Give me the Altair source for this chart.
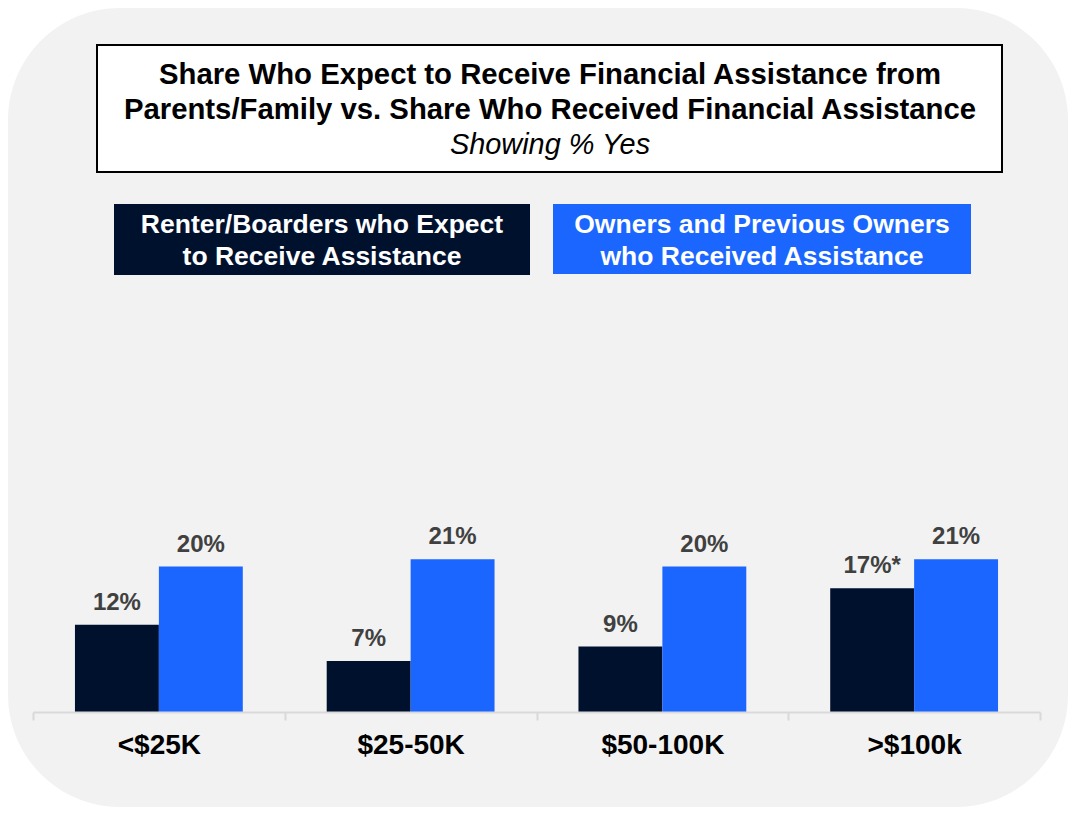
import altair as alt
import pandas as pd

categories = ["<$25K", "$25-50K", "$50-100K", ">$100k"]
series = ["Renter/Boarders who Expect to Receive Assistance",
          "Owners and Previous Owners who Received Assistance"]
renters = [12, 7, 9, 17]
owners = [20, 21, 20, 21]
renter_labels = ["12%", "7%", "9%", "17%*"]
owner_labels = ["20%", "21%", "20%", "21%"]

title_lines = ["Share Who Expect to Receive Financial Assistance from",
               "Parents/Family vs. Share Who Received Financial Assistance",
               "Showing % Yes"]
legend_dark = ["Renter/Boarders who Expect", "to Receive Assistance"]
legend_blue = ["Owners and Previous Owners", "who Received Assistance"]

DARK = "#00112e"
BLUE = "#1a66ff"
BG = "#f2f2f2"
FONT = "Liberation Sans"

rows = []
for c, v, l in zip(categories, renters, renter_labels):
    rows.append({"cat": c, "series": series[0], "value": v, "label": l})
for c, v, l in zip(categories, owners, owner_labels):
    rows.append({"cat": c, "series": series[1], "value": v, "label": l})
df = pd.DataFrame(rows)

one = pd.DataFrame({"k": [0]})

x_enc = alt.X("cat:N", sort=categories, title=None,
              scale=alt.Scale(paddingInner=0, paddingOuter=0),
              axis=alt.Axis(labelAngle=0, labelFont=FONT, labelFontSize=28,
                            labelFontWeight="bold", labelColor="#000000",
                            labelPadding=11, domainColor="#d9d9d9", domainWidth=2,
                            tickColor="#d9d9d9", tickWidth=2, tickSize=8,
                            tickBand="extent", grid=False, zindex=1))
xo_enc = alt.XOffset("series:N", sort=series,
                     scale=alt.Scale(paddingInner=0, paddingOuter=0.5))
y_enc = alt.Y("value:Q", axis=None,
              scale=alt.Scale(domain=[0, 96.8], nice=False, zero=True))

background = alt.Chart(one).mark_rect(color=BG, cornerRadius=112).encode(
    x=alt.value(-25), x2=alt.value(1035), y=alt.value(0), y2=alt.value(799))

title_box = alt.Chart(one).mark_rect(fill="white", stroke="#000000", strokeWidth=2).encode(
    x=alt.value(64), x2=alt.value(969), y=alt.value(37), y2=alt.value(164))

def text_line(txt, x, y, size, color, weight="bold", style="normal"):
    return alt.Chart(one).mark_text(font=FONT, fontSize=size, fontWeight=weight,
                                    fontStyle=style, color=color, align="center",
                                    baseline="middle").encode(
        x=alt.value(x), y=alt.value(y), text=alt.value(txt))

t1 = text_line(title_lines[0], 517, 67, 29.3, "#000000")
t2 = text_line(title_lines[1], 517, 102, 29.3, "#000000")
t3 = text_line(title_lines[2], 517, 137, 28.9, "#000000", weight="normal", style="italic")

leg_dark_box = alt.Chart(one).mark_rect(color=DARK).encode(
    x=alt.value(81), x2=alt.value(497), y=alt.value(196), y2=alt.value(267))
leg_blue_box = alt.Chart(one).mark_rect(color=BLUE).encode(
    x=alt.value(520), x2=alt.value(938), y=alt.value(196), y2=alt.value(266))
ld1 = text_line(legend_dark[0], 289, 217, 26.5, "#ffffff")
ld2 = text_line(legend_dark[1], 289, 249, 26.5, "#ffffff")
lb1 = text_line(legend_blue[0], 729, 217, 26.5, "#ffffff")
lb2 = text_line(legend_blue[1], 729, 249, 26.5, "#ffffff")

bars = alt.Chart(df).mark_bar().encode(
    x=x_enc, xOffset=xo_enc, y=y_enc,
    color=alt.Color("series:N", sort=series, legend=None,
                    scale=alt.Scale(domain=series, range=[DARK, BLUE])))

labels = alt.Chart(df).mark_text(font=FONT, fontSize=24, fontWeight="bold",
                                 color="#404040", baseline="alphabetic", dy=-15).encode(
    x=alt.X("cat:N", sort=categories), xOffset=alt.XOffset("series:N", sort=series),
    y=alt.Y("value:Q"), text="label:N")

chart = alt.layer(background, title_box, t1, t2, t3, leg_dark_box, leg_blue_box,
                  ld1, ld2, lb1, lb2, bars, labels).properties(
    width=1007, height=704,
    padding={"left": 25, "top": 0, "right": 28, "bottom": 95},
    autosize=alt.AutoSizeParams(type="none"),
    background="white",
).configure_view(stroke=None)

chart.save("out.html", embed_options={"renderer": "svg", "actions": False})
